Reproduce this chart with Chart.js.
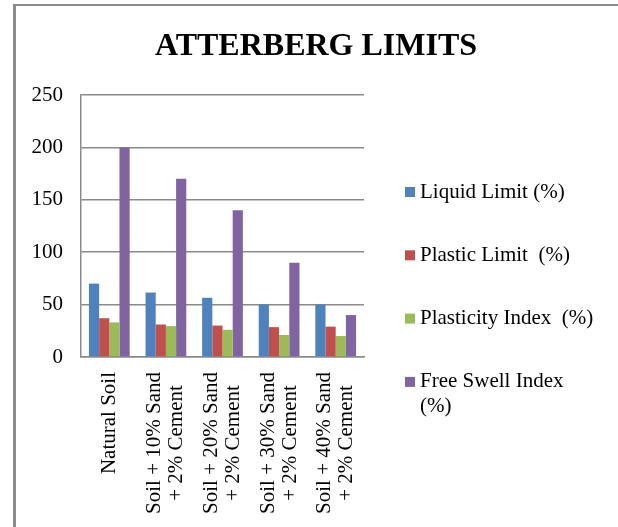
<!DOCTYPE html>
<html>
<head>
<meta charset="utf-8">
<script src="https://cdn.jsdelivr.net/npm/chart.js@4.4.1/dist/chart.umd.min.js"></script>
<style>
  html, body { margin: 0; padding: 0; background: #fff; overflow: hidden; }
  #frame {
    position: absolute; left: 13px; top: 4px; width: 700px; height: 600px;
    border-left: 3px solid #8c8c8c; border-top: 2px solid #8c8c8c;
  }
  #c { position: absolute; left: 0; top: 0; }
</style>
</head>
<body>
<div id="frame"></div>
<canvas id="c" width="618" height="527"></canvas>
<script>
// Atterberg limits and free swell index for each soil mix
const categories = [
  ["Natural Soil"],
  ["Soil + 10% Sand", "+ 2% Cement"],
  ["Soil + 20% Sand", "+ 2% Cement"],
  ["Soil + 30% Sand", "+ 2% Cement"],
  ["Soil + 40% Sand", "+ 2% Cement"]
];
const liquidLimit     = [70, 61.5, 56.5, 50, 50];
const plasticLimit    = [37, 31, 30, 28.5, 29];
const plasticityIndex = [33, 29.5, 26, 21, 20];
const freeSwellIndex  = [200, 170, 140, 90, 40];
const seriesNames = ["Liquid Limit (%)", "Plastic Limit  (%)", "Plasticity Index  (%)", "Free Swell Index (%)"];
const yTicks = [0, 50, 100, 150, 200, 250];

const serif = "'Liberation Serif', 'Times New Roman', serif";
const colors = ["#4F81BD", "#C0504D", "#9BBB59", "#8064A2"];

// Chart heading
const titlePlugin = {
  id: 'heading',
  afterDraw(chart) {
    const ctx = chart.ctx;
    ctx.save();
    ctx.fillStyle = '#000';
    ctx.font = "bold 32px " + serif;
    ctx.textAlign = 'center';
    ctx.textBaseline = 'alphabetic';
    ctx.fillText("ATTERBERG LIMITS", 316, 55);
    ctx.restore();
  }
};

// Vertical category labels, lines centred on each other
const xLabelPlugin = {
  id: 'xLabels',
  afterDraw(chart) {
    const ctx = chart.ctx;
    const xs = chart.scales.x;
    const top = chart.chartArea.bottom + 15;
    const lh = 22;
    ctx.save();
    ctx.fillStyle = '#000';
    ctx.font = "21px " + serif;
    ctx.textAlign = 'center';
    ctx.textBaseline = 'middle';
    categories.forEach((lines, i) => {
      const cx = xs.getPixelForValue(i);
      const maxW = Math.max(...lines.map(l => ctx.measureText(l).width));
      ctx.save();
      ctx.translate(cx, top + maxW / 2);
      ctx.rotate(-Math.PI / 2);
      lines.forEach((l, j) => {
        ctx.fillText(l, 0, (j - (lines.length - 1) / 2) * lh);
      });
      ctx.restore();
    });
    ctx.restore();
  }
};

// Legend to the right of the plot
const legendPlugin = {
  id: 'sideLegend',
  afterDraw(chart) {
    const ctx = chart.ctx;
    ctx.save();
    ctx.font = "21px " + serif;
    ctx.textBaseline = 'middle';
    ctx.textAlign = 'left';
    const boxX = 405, textX = 420, firstY = 192, step = 63.3, lh = 25, maxW = 176;
    chart.data.datasets.forEach((ds, i) => {
      const cy = firstY + i * step;
      ctx.fillStyle = ds.backgroundColor;
      ctx.fillRect(boxX, cy - 5, 10, 10);
      // wrap words to the available width
      const words = ds.label.split(' ');
      const lines = [];
      let cur = '';
      words.forEach(w => {
        const test = cur ? cur + ' ' + w : w;
        if (cur && ctx.measureText(test).width > maxW) { lines.push(cur); cur = w; }
        else cur = test;
      });
      if (cur) lines.push(cur);
      ctx.fillStyle = '#000';
      lines.forEach((l, j) => ctx.fillText(l, textX, cy + j * lh));
    });
    ctx.restore();
  }
};

const seriesValues = [liquidLimit, plasticLimit, plasticityIndex, freeSwellIndex];

new Chart(document.getElementById('c'), {
  type: 'bar',
  data: {
    labels: categories,
    datasets: seriesValues.map((vals, i) => ({
      label: seriesNames[i],
      data: vals,
      backgroundColor: colors[i],
      borderWidth: 0,
      barPercentage: 1.0,
      categoryPercentage: 0.72
    }))
  },
  options: {
    responsive: false,
    animation: false,
    layout: { padding: { left: 0, top: 95, right: 254, bottom: 0 } },
    plugins: {
      legend: { display: false },
      title: { display: false },
      tooltip: { enabled: false }
    },
    scales: {
      x: {
        grid: { display: false },
        border: { display: true, color: '#8a8a8a', width: 1.5 },
        ticks: { display: false },
        afterFit(s) { s.height = 170; }
      },
      y: {
        min: yTicks[0],
        max: yTicks[yTicks.length - 1],
        afterBuildTicks(s) { s.ticks = yTicks.map(v => ({ value: v })); },
        grid: { color: '#8a8a8a', lineWidth: 1.5, drawTicks: false },
        border: { display: true, color: '#8a8a8a', width: 1.5 },
        ticks: { color: '#000', padding: 18, font: { family: serif, size: 21 } },
        afterFit(s) { s.width = 81; }
      }
    }
  },
  plugins: [titlePlugin, xLabelPlugin, legendPlugin]
});
</script>
</body>
</html>
